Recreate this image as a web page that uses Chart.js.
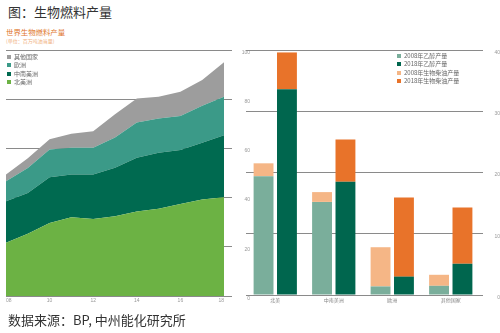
<!DOCTYPE html>
<html><head><meta charset="utf-8">
<script src="https://cdn.jsdelivr.net/npm/chart.js@4/dist/chart.umd.min.js"></script>
<style>
html,body{margin:0;padding:0;background:#fff;width:500px;height:333px;overflow:hidden;font-family:"Noto Sans CJK SC","Noto Sans",sans-serif;}
.abs{position:absolute;white-space:nowrap;}
#title{left:8px;top:2px;font-size:13px;color:#333;}
#src{left:8px;top:310px;font-size:13px;color:#333;}
#sub1{left:6px;top:26px;font-size:7.4px;color:#e0762c;}
#sub2{left:6px;top:37px;font-size:5px;color:#f0b080;}
.leg{font-size:6px;color:#666;line-height:8.3px;}
.leg div{display:flex;align-items:center;height:8.3px;}
.leg span{display:inline-block;width:4px;height:4px;margin-right:3px;}
#leg1{left:7px;top:53px;}
#leg2{left:397px;top:52px;}
#c1{left:0;top:44px;width:250px;height:270px;}
#c2{left:240px;top:44px;width:260px;height:270px;}
</style></head>
<body>
<div id="title" class="abs">图：生物燃料产量</div>
<div id="sub1" class="abs">世界生物燃料产量</div>
<div id="sub2" class="abs">(单位：百万吨油当量)</div>
<div id="c1" class="abs"><canvas id="left"></canvas></div>
<div id="c2" class="abs"><canvas id="right"></canvas></div>
<div id="leg1" class="abs leg"></div>
<div id="leg2" class="abs leg"></div>
<div id="src" class="abs">数据来源：BP, 中州能化研究所</div>
<script>
const years = ['08','09','10','11','12','13','14','15','16','17','18'];
const northAmerica = [21.6, 25.3, 29.7, 32.0, 31.3, 32.4, 34.4, 35.5, 37.4, 39.2, 40.1];
const centralSouthAmerica = [16.9, 16.6, 18.6, 17.4, 18.1, 19.7, 21.8, 22.7, 21.9, 23.1, 25.2];
const europe = [8.1, 10.1, 11.3, 10.9, 10.9, 12.3, 14.3, 14.0, 13.9, 15.0, 15.7];
const others = [2.8, 4.0, 4.1, 5.7, 6.7, 9.5, 9.8, 8.8, 9.8, 10.5, 14.0];
const areaNames = ['其他国家','欧洲','中南美洲','北美洲'];
const areaColors = ['#9d9d9d','#3b9a88','#006a50','#6cb244'];

const regions = ['北美','中南美洲','欧洲','其他国家'];
const ethanol2008 = [19.4, 15.2, 1.4, 1.5];
const ethanol2018 = [33.6, 18.5, 3.0, 5.1];
const biodiesel2008 = [2.1, 1.6, 6.4, 1.8];
const biodiesel2018 = [6.0, 6.9, 12.9, 9.2];
const barNames = ['2008年乙醇产量','2018年乙醇产量','2008年生物柴油产量','2018年生物柴油产量'];
const barColors = ['#7aae9b','#00664e','#f5b686','#e8732a'];

const leftTicks = [0,20,40,60,80,100];
const rightTicks = [0,10,20,30,40];

function legend(id, names, colors){
  const el = document.getElementById(id);
  names.forEach((n,i)=>{
    const d = document.createElement('div');
    d.innerHTML = '<span style="background:'+colors[i]+'"></span>'+n;
    el.appendChild(d);
  });
}
legend('leg1', areaNames, areaColors);
legend('leg2', barNames, barColors);

const tickFont = {family:'"Liberation Sans", Arial, sans-serif', size:5};
const cjkTickFont = {family:'"Noto Sans CJK SC", sans-serif', size:5};

new Chart(document.getElementById('left'), {
  type:'line',
  data:{labels:years, datasets:[
    {label:'北美洲', data:northAmerica, backgroundColor:areaColors[3], fill:'origin'},
    {label:'中南美洲', data:centralSouthAmerica, backgroundColor:areaColors[2], fill:'-1'},
    {label:'欧洲', data:europe, backgroundColor:areaColors[1], fill:'-1'},
    {label:'其他国家', data:others, backgroundColor:areaColors[0], fill:'-1'}
  ].map(d=>Object.assign(d,{borderWidth:0,pointRadius:0,tension:0}))},
  options:{
    responsive:true, maintainAspectRatio:false, animation:false,
    layout:{padding:{left:6,top:6,right:0,bottom:0}},
    plugins:{legend:{display:false},tooltip:{enabled:false}},
    scales:{
      x:{offset:false, grid:{display:false, drawTicks:false, tickLength:0}, border:{display:false},
         ticks:{autoSkip:false, maxRotation:0, align:'inner', font:tickFont, color:'#999', padding:2,
           callback:(v,i)=> i%2===0 ? years[i] : ''},
         afterFit:s=>{s.height=18;s.paddingLeft=0;s.paddingRight=0;}},
      y:{position:'right', stacked:true, min:0, max:100,
         afterBuildTicks:s=>{s.ticks=leftTicks.map(v=>({value:v}));},
         grid:{color:'#8a8a8a', lineWidth:1, tickLength:8}, border:{display:false},
         ticks:{font:tickFont, color:'#999', align:'start', crossAlign:'far', padding:0},
         afterFit:s=>{s.width=26;s.paddingTop=0;s.paddingBottom=0;}}
    }
  }
});

new Chart(document.getElementById('right'), {
  type:'bar',
  data:{labels:regions, datasets:[
    {label:barNames[0], data:ethanol2008, backgroundColor:barColors[0], stack:'a'},
    {label:barNames[2], data:biodiesel2008, backgroundColor:barColors[2], stack:'a'},
    {label:barNames[1], data:ethanol2018, backgroundColor:barColors[1], stack:'b'},
    {label:barNames[3], data:biodiesel2018, backgroundColor:barColors[3], stack:'b'}
  ].map(d=>Object.assign(d,{borderWidth:0,barPercentage:0.85,categoryPercentage:0.8}))},
  options:{
    responsive:true, maintainAspectRatio:false, animation:false,
    layout:{padding:{left:6,top:6,right:0,bottom:0}},
    plugins:{legend:{display:false},tooltip:{enabled:false}},
    scales:{
      x:{stacked:true, grid:{display:false, drawTicks:false, tickLength:0}, border:{display:false},
         ticks:{font:cjkTickFont, color:'#888', padding:2, maxRotation:0, autoSkip:false},
         afterFit:s=>{s.height=19;s.paddingLeft=0;s.paddingRight=0;}},
      y:{position:'right', stacked:true, min:0, max:40,
         afterBuildTicks:s=>{s.ticks=rightTicks.map(v=>({value:v}));},
         grid:{color:'#8a8a8a', lineWidth:1, tickLength:3}, border:{display:false},
         ticks:{font:tickFont, color:'#999', align:'start', crossAlign:'far', padding:1},
         afterFit:s=>{s.width=20;s.paddingTop=0;s.paddingBottom=0;}}
    }
  }
});
</script>
</body></html>
